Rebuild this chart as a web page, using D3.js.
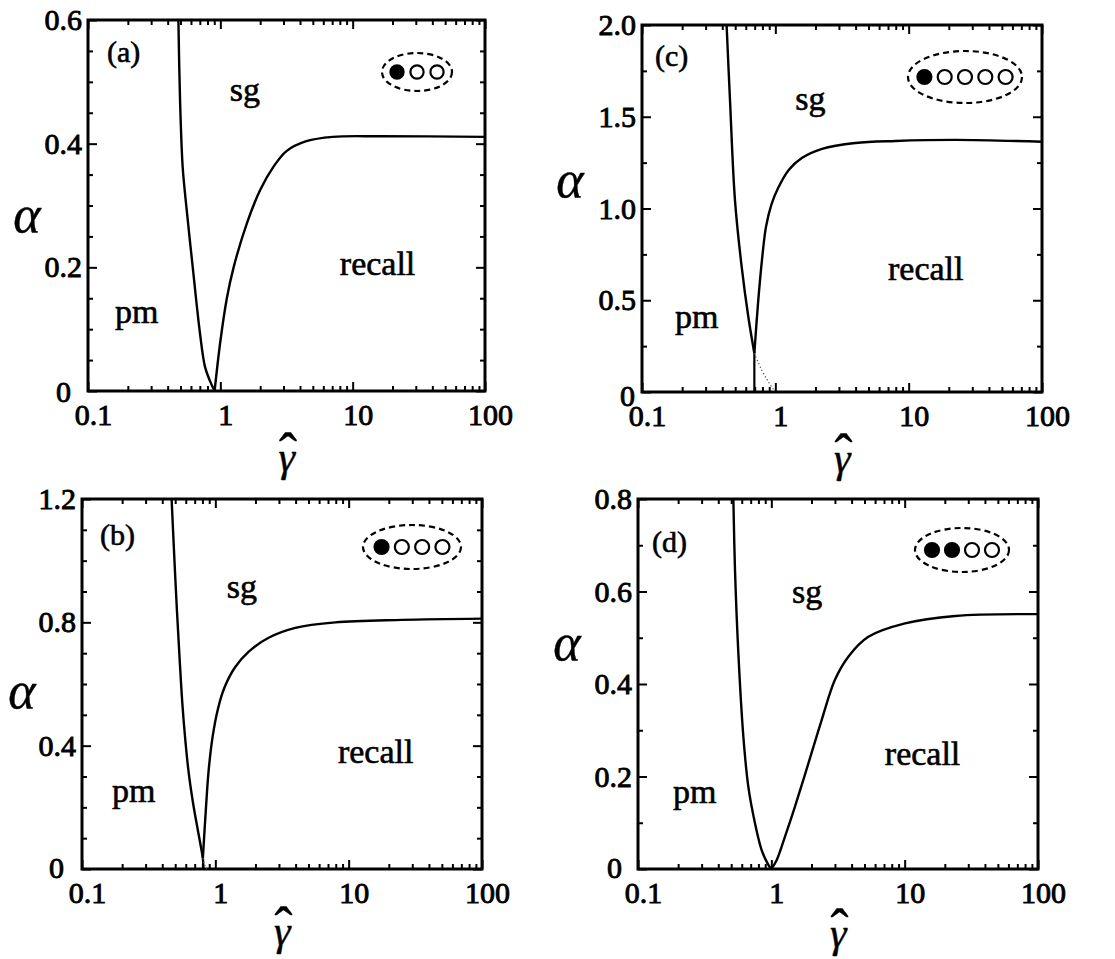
<!DOCTYPE html>
<html>
<head>
<meta charset="utf-8">
<script src="https://cdn.jsdelivr.net/npm/d3@7"></script>
<style>
  body { margin: 0; background: #fff; }
  svg { display: block; }
  text { font-family: "Liberation Serif", "Times New Roman", serif; fill: #000; stroke: #000; stroke-width: 0.6px; }
  .tick text { stroke-width: 0.9px; }
</style>
</head>
<body>
<svg id="chart" width="1115" height="959"></svg>
<script>
// ---- axis definitions --------------------------------------------------
const gammaDomain = [0.1, 100];
const gammaTickValues = [0.1, 1, 10, 100];
const gammaTickLabels = ["0.1", "1", "10", "100"];

const panelNames = ["(a)", "(b)", "(c)", "(d)"];
const alphaMax = [0.6, 1.2, 2.0, 0.8];
const alphaTickValues = [
  [0, 0.2, 0.4, 0.6],
  [0, 0.4, 0.8, 1.2],
  [0, 0.5, 1.0, 1.5, 2.0],
  [0, 0.2, 0.4, 0.6, 0.8]
];
const alphaTickLabels = [
  ["0", "0.2", "0.4", "0.6"],
  ["0", "0.4", "0.8", "1.2"],
  ["0", "0.5", "1.0", "1.5", "2.0"],
  ["0", "0.2", "0.4", "0.6", "0.8"]
];
const alphaMinorStep = [0.05, 0.1, 0.25, 0.1];

// ---- phase boundaries, [gamma-hat, alpha] -------------------------------
// sg / pm boundary (left branch)
const sgPmA = [[0.482, 0.6], [0.496, 0.471], [0.519, 0.363], [0.547, 0.309], [0.618, 0.201],
  [0.702, 0.093], [0.766, 0.039], [0.836, 0.016], [0.905, 0.0]];
const sgPmB = [[0.470, 1.2], [0.490, 1.03], [0.515, 0.84], [0.540, 0.68], [0.565, 0.54],
  [0.595, 0.42], [0.630, 0.315], [0.680, 0.215], [0.740, 0.125], [0.785, 0.065],
  [0.806, 0.035], [0.815, 0.0]];
const sgPmC = [[0.431, 2.0], [0.457, 1.591], [0.498, 1.046], [0.559, 0.683], [0.627, 0.41],
  [0.696, 0.211]];
const sgPmD = [[0.519, 0.8], [0.534, 0.646], [0.566, 0.466], [0.617, 0.286], [0.672, 0.178],
  [0.754, 0.099], [0.846, 0.041], [0.950, 0.009], [1.0, 0.0]];

// recall boundary (right branch)
const recallA = [[0.905, 0.0], [1.0, 0.08], [1.12, 0.15], [1.26, 0.20], [1.58, 0.27],
  [2.0, 0.325], [2.51, 0.362], [3.16, 0.388], [4.47, 0.404], [7.08, 0.411], [15.8, 0.412],
  [100, 0.411]];
const recallB = [[0.806, 0.035], [0.851, 0.20], [0.891, 0.32], [0.955, 0.43], [1.047, 0.52],
  [1.175, 0.59], [1.41, 0.655], [1.78, 0.705], [2.51, 0.75], [3.98, 0.782], [7.94, 0.80],
  [25, 0.808], [100, 0.812]];
const recallC = [[0.696, 0.211], [0.741, 0.48], [0.794, 0.72], [0.851, 0.90], [0.933, 1.02],
  [1.047, 1.11], [1.26, 1.21], [1.58, 1.275], [2.24, 1.325], [3.98, 1.357], [7.94, 1.368],
  [22.4, 1.374], [100, 1.364]];
const recallD = [[1.0, 0.0], [1.096, 0.019], [1.266, 0.070], [1.504, 0.135], [1.894, 0.228],
  [2.385, 0.322], [3.0, 0.409], [3.78, 0.459], [5.34, 0.502], [10.06, 0.531], [23.9, 0.547],
  [100, 0.551]];

// extra segments: vertical drop and dotted continuations near the cusp
const dropC = [[0.696, 0.211], [0.696, 0.0]];
const dottedB = [[0.806, 0.035], [0.83, 0.015], [0.86, 0.0]];
const dottedC = [[0.696, 0.211], [0.790, 0.12], [0.886, 0.056], [0.966, 0.015]];

// region names and where they sit, [gamma-hat, alpha] of the text start / baseline
const regionNames = ["sg", "recall", "pm"];
const regionAnchorsA = [[1.18, 0.469], [8.0, 0.188], [0.16, 0.110]];
const regionAnchorsB = [[1.22, 0.879], [8.3, 0.344], [0.168, 0.217]];
const regionAnchorsC = [[1.41, 1.537], [7.0, 0.610], [0.177, 0.349]];
const regionAnchorsD = [[1.43, 0.575], [7.1, 0.225], [0.183, 0.143]];

// pattern shown in each inset: 1 = filled, 0 = open
const insetPattern = [[1, 0, 0], [1, 0, 0, 0], [1, 0, 0, 0, 0], [1, 1, 0, 0]];

// ---- layout -------------------------------------------------------------
const layout = [
  // a
  { box: [88, 485, 20, 391], zero: [-11, 1], alpha: [-61, 200], letter: [19, 42], gammaY: 80,
    inset: { dx: -68, dy: 52, rx: 35, ry: 19, gap: 20, r: 6.6 } },
  // b
  { box: [82, 482, 499, 869], zero: [-12, -1], alpha: [-60, 197], letter: [18, 46], gammaY: 76,
    inset: { dx: -70, dy: 48, rx: 49, ry: 22, gap: 20.3, r: 7 } },
  // c
  { box: [642, 1042, 25, 392], zero: [-1, 4], alpha: [-72, 160], letter: [13, 41], gammaY: 80,
    inset: { dx: -77, dy: 52, rx: 57, ry: 26, gap: 20.3, r: 7 } },
  // d
  { box: [638, 1038, 499, 869], zero: [-10, -1], alpha: [-71, 149], letter: [14, 53], gammaY: 78,
    inset: { dx: -76, dy: 51, rx: 47, ry: 22, gap: 20, r: 7 } }
];

const sgPm = [sgPmA, sgPmB, sgPmC, sgPmD];
const recall = [recallA, recallB, recallC, recallD];
const regionAnchors = [regionAnchorsA, regionAnchorsB, regionAnchorsC, regionAnchorsD];

// ---- drawing ------------------------------------------------------------
const svg = d3.select("#chart");
svg.append("rect").attr("width", 1115).attr("height", 959).attr("fill", "#fff");

const gammaMinor = [];
[0.1, 1, 10].forEach(dec => d3.range(2, 10).forEach(k => gammaMinor.push(+(dec * k).toPrecision(3))));

const MAJ = 9, MIN = 5;
const tickFont = 30;

function styleAxis(sel) {
  sel.select(".domain").remove();
  sel.selectAll(".tick line").attr("stroke", "#000").attr("stroke-width", 2);
  sel.attr("font-family", "Liberation Serif, Times New Roman, serif").attr("font-size", tickFont);
  sel.selectAll("text").attr("fill", "#000");
}

layout.forEach((L, i) => {
  const [x0, x1, yTop, yBot] = L.box;
  const x = d3.scaleLog().domain(gammaDomain).range([x0, x1]);
  const y = d3.scaleLinear().domain([0, alphaMax[i]]).range([yBot, yTop]);
  const g = svg.append("g");

  const majA = alphaTickValues[i];
  const minA = d3.range(0, alphaMax[i] + 1e-9, alphaMinorStep[i])
    .filter(v => !majA.some(m => Math.abs(m - v) < 1e-9));

  // minor ticks on all four sides, pointing inward
  g.append("g").attr("transform", `translate(0,${yBot})`)
    .call(d3.axisBottom(x).tickValues(gammaMinor).tickSize(-MIN).tickFormat("")).call(styleAxis);
  g.append("g").attr("transform", `translate(0,${yTop})`)
    .call(d3.axisTop(x).tickValues(gammaMinor).tickSize(-MIN).tickFormat("")).call(styleAxis);
  g.append("g").attr("transform", `translate(${x0},0)`)
    .call(d3.axisLeft(y).tickValues(minA).tickSize(-MIN).tickFormat("")).call(styleAxis);
  g.append("g").attr("transform", `translate(${x1},0)`)
    .call(d3.axisRight(y).tickValues(minA).tickSize(-MIN).tickFormat("")).call(styleAxis);

  // major ticks with labels
  const bottom = g.append("g").attr("transform", `translate(0,${yBot})`)
    .call(d3.axisBottom(x).tickValues(gammaTickValues).tickSize(-MAJ).tickPadding(13)
      .tickFormat((d, k) => gammaTickLabels[k])).call(styleAxis);
  bottom.selectAll("text").attr("dx", 5);
  g.append("g").attr("transform", `translate(0,${yTop})`)
    .call(d3.axisTop(x).tickValues(gammaTickValues).tickSize(-MAJ).tickFormat("")).call(styleAxis);
  const left = g.append("g").attr("transform", `translate(${x0},0)`)
    .call(d3.axisLeft(y).tickValues(majA).tickSize(-MAJ).tickPadding(6)
      .tickFormat((d, k) => alphaTickLabels[i][k])).call(styleAxis);
  left.selectAll("text").filter(d => d === 0)
    .attr("transform", `translate(${L.zero[0]},${L.zero[1]})`);
  g.append("g").attr("transform", `translate(${x1},0)`)
    .call(d3.axisRight(y).tickValues(majA).tickSize(-MAJ).tickFormat("")).call(styleAxis);

  // frame
  g.append("rect").attr("x", x0).attr("y", yTop).attr("width", x1 - x0).attr("height", yBot - yTop)
    .attr("fill", "none").attr("stroke", "#000").attr("stroke-width", 3);

  // boundaries
  const line = d3.line().x(d => x(d[0])).y(d => y(d[1])).curve(d3.curveCatmullRom.alpha(0.5));
  const straight = d3.line().x(d => x(d[0])).y(d => y(d[1]));
  g.append("path").attr("d", line(sgPm[i])).attr("fill", "none").attr("stroke", "#000").attr("stroke-width", 2.4);
  g.append("path").attr("d", line(recall[i])).attr("fill", "none").attr("stroke", "#000").attr("stroke-width", 2.4);
  if (i === 2) {
    g.append("path").attr("d", straight(dropC)).attr("fill", "none").attr("stroke", "#000").attr("stroke-width", 2.2);
    g.append("path").attr("d", line(dottedC)).attr("fill", "none").attr("stroke", "#444")
      .attr("stroke-width", 1.2).attr("stroke-dasharray", "1.2,2.4");
  }
  if (i === 1) {
    g.append("path").attr("d", line(dottedB)).attr("fill", "none").attr("stroke", "#777")
      .attr("stroke-width", 1.1).attr("stroke-dasharray", "1.2,2.4");
  }

  // region names
  regionNames.forEach((name, k) => {
    g.append("text").attr("x", x(regionAnchors[i][k][0])).attr("y", y(regionAnchors[i][k][1]))
      .attr("font-size", 34).text(name);
  });

  // panel letter
  g.append("text").attr("x", x0 + L.letter[0]).attr("y", yTop + L.letter[1])
    .attr("font-size", 30).text(panelNames[i]);

  // axis titles
  g.append("text").attr("x", x0 + L.alpha[0]).attr("y", yTop + L.alpha[1] + 12)
    .attr("text-anchor", "middle").attr("font-size", 52).attr("font-style", "italic")
    .style("stroke-width", "0.4px").text("α");
  const cx = (x0 + x1) / 2;
  const gt = g.append("text").attr("x", cx - 8).attr("y", yBot + L.gammaY).style("stroke-width", "0.4px");
  gt.append("tspan").attr("font-size", 42).attr("font-style", "italic").text("γ");
  gt.append("tspan").attr("font-size", 54).attr("dx", -16).text("ˆ");

  // inset: chain of units inside a dashed ellipse
  const I = L.inset;
  const icx = x1 + I.dx, icy = yTop + I.dy;
  g.append("ellipse").attr("cx", icx).attr("cy", icy).attr("rx", I.rx).attr("ry", I.ry)
    .attr("fill", "none").attr("stroke", "#000").attr("stroke-width", 2.2).attr("stroke-dasharray", "6,4");
  const n = insetPattern[i].length;
  insetPattern[i].forEach((f, k) => {
    g.append("circle").attr("cx", icx + (k - (n - 1) / 2) * I.gap).attr("cy", icy).attr("r", I.r)
      .attr("fill", f ? "#000" : "#fff").attr("stroke", "#000").attr("stroke-width", 2.2);
  });
});
</script>
</body>
</html>
